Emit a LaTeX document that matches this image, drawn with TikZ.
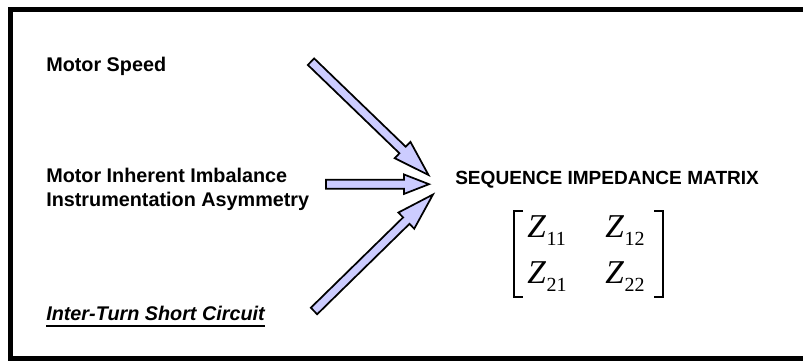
\documentclass[tikz,border=0pt]{standalone}
\usepackage{fontspec}
\setmainfont{Liberation Sans}
\newfontfamily\timesrm{Liberation Serif}
\usetikzlibrary{calc}

\definecolor{arrowfill}{HTML}{CCCCFF}

% block arrow: from #1 to #2, head length #3, head half width #4
\newcommand\blockarrow[4]{%
  \draw[barrow] let \p1=($(#2)-(#1)$), \n1={atan2(\y1,\x1)}, \n2={veclen(\x1,\y1)} in
    [shift={(#1)}, rotate=\n1]
    (0pt,-3.4pt) -- (\n2-#3,-3.4pt) -- (\n2-#3,-#4) -- (\n2,0pt)
    -- (\n2-#3,#4) -- (\n2-#3,3.4pt) -- (0pt,3.4pt) -- cycle;}

% Z with its index
\newcommand\zsub[1]{{\itshape Z}\kern0.6pt\raisebox{-6pt}{\fontsize{15}{16}\selectfont #1}}

\begin{document}
\begin{tikzpicture}[
  x=0.75pt, y=0.75pt,
  frame/.style={draw, line width=3.75pt},
  lbl/.style={anchor=base west, inner sep=0pt, align=left, font=\fontsize{14.85}{18}\selectfont\bfseries},
  ttl/.style={anchor=base west, inner sep=0pt, font=\fontsize{14.3}{17}\selectfont\bfseries},
  zmat/.style={anchor=base west, inner sep=0pt, font=\timesrm\fontsize{25}{34.5}\selectfont},
  brk/.style={draw, line width=0.9pt},
  uline/.style={draw, line width=1.5pt},
  barrow/.style={draw=black, line width=1.3pt, fill=arrowfill}
]
  \useasboundingbox (0,0) rectangle (803,361);
  \draw[frame] (10.8,3) rectangle (806,351.5);

  % inputs
  \node[lbl] (speed) at (46,289) {Motor Speed};
  \node[lbl] (imbal) at (46,154.3) {Motor Inherent Imbalance\\Instrumentation Asymmetry};
  \node[lbl, font=\fontsize{14.85}{18}\selectfont\bfseries\itshape] (itsc) at (46,40.7) {Inter-Turn Short Circuit};
  \draw[uline] ([yshift=-4.4]itsc.base west) -- ([yshift=-4.4]itsc.base east);

  % output
  \node[ttl] (seqmat) at (455,176) {SEQUENCE IMPEDANCE MATRIX};
  \node[zmat] (imp) at (527,124) {\begin{tabular}[t]{@{}l@{\hspace{29pt}}l@{}}
      \zsub{11} & \zsub{12}\\
      \zsub{21} & \zsub{22}
    \end{tabular}};
  \draw[brk] ([shift={(-4,26)}]imp.base west) -- ++(-9,0) -- ++(0,-86) -- ++(9,0);
  \draw[brk] ([shift={(127,26)}]imp.base west) -- ++(9,0) -- ++(0,-86) -- ++(-9,0);

  % arrows
  \coordinate (spdtail) at (311,299.3);
  \coordinate (spdtip) at (429,185.5);
  \coordinate (imbtail) at (326,176.8);
  \coordinate (imbtip) at (429,176.8);
  \coordinate (itsctail) at (314,50);
  \coordinate (itsctip) at (433,166.5);
  \blockarrow{spdtail}{spdtip}{27pt}{8.5pt}
  \blockarrow{imbtail}{imbtip}{18.75pt}{7.3pt}
  \blockarrow{itsctail}{itsctip}{28pt}{8.5pt}
\end{tikzpicture}
\end{document}
